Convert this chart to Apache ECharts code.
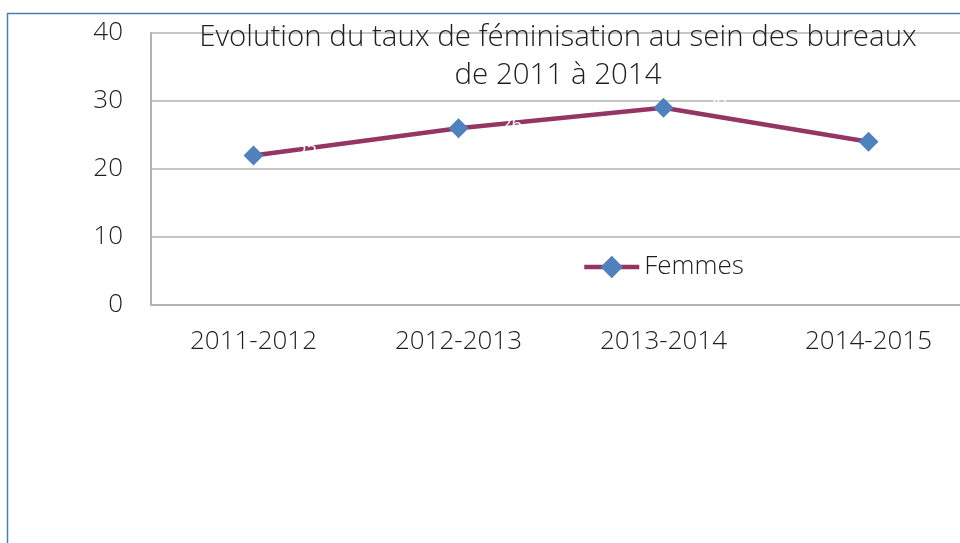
<!DOCTYPE html>
<html>
<head>
<meta charset="utf-8">
<script src="https://cdn.jsdelivr.net/npm/echarts@6/dist/echarts.min.js"></script>
<style>
  html, body { margin: 0; padding: 0; background: #ffffff; }
  #chart { width: 960px; height: 543px; }
</style>
</head>
<body>
<div id="chart"></div>
<script>
// School years on the horizontal axis
const categories = ['2011-2012', '2012-2013', '2013-2014', '2014-2015'];
// Share of women in the bureaux (%)
const femmes = [22, 26, 29, 24];
// Vertical axis range
const yMin = 0;
const yMax = 40;
const yStep = 10;

const FONT = "'Open Sans', 'Lato', sans-serif";

const chart = echarts.init(document.getElementById('chart'));
chart.setOption({
  animation: false,
  backgroundColor: '#ffffff',
  title: {
    text: 'Evolution du taux de féminisation au sein des bureaux\nde 2011 à 2014',
    left: 558,
    top: 19,
    padding: 0,
    textAlign: 'center',
    textStyle: {
      fontFamily: FONT,
      fontWeight: 300,
      fontSize: 29.5,
      lineHeight: 38,
      color: '#1f1f1f'
    }
  },
  legend: {
    left: 582,
    top: 254,
    padding: 0,
    itemWidth: 55,
    itemHeight: 28,
    data: ['Femmes'],
    lineStyle: { width: 4.5 },
    textStyle: {
      fontFamily: FONT,
      fontWeight: 300,
      fontSize: 26,
      color: '#1f1f1f'
    }
  },
  grid: {
    left: 151,
    top: 33,
    width: 820,
    bottom: 238,
    outerBoundsMode: 'none',
    containLabel: false
  },
  xAxis: {
    type: 'category',
    data: categories,
    boundaryGap: true,
    axisTick: { show: false },
    axisLine: { lineStyle: { color: '#b3b3b3', width: 2 } },
    axisLabel: {
      margin: 24,
      fontFamily: FONT,
      fontWeight: 300,
      fontSize: 26,
      color: '#1f1f1f'
    }
  },
  yAxis: {
    type: 'value',
    min: yMin,
    max: yMax,
    interval: yStep,
    axisTick: { show: false },
    axisLine: { show: true, lineStyle: { color: '#b3b3b3', width: 2 } },
    splitLine: { lineStyle: { color: '#b3b3b3', width: 1.5 } },
    axisLabel: {
      margin: 28,
      fontFamily: FONT,
      fontWeight: 300,
      fontSize: 26,
      color: '#1f1f1f'
    }
  },
  series: [{
    name: 'Femmes',
    type: 'line',
    data: femmes,
    symbol: 'diamond',
    symbolSize: 20,
    itemStyle: { color: '#4f81bd' },
    lineStyle: { color: '#953563', width: 4.5 },
    label: {
      show: true,
      position: 'right',
      offset: [28, -3],
      color: '#ffffff',
      fontFamily: FONT,
      fontSize: 18
    },
    z: 3
  }],
  graphic: [{
    type: 'rect',
    shape: { x: 7.5, y: 13.5, width: 1000, height: 600 },
    style: { fill: 'none', stroke: '#4a7ebb', lineWidth: 1.5 },
    silent: true,
    z: 100
  }]
});
</script>
</body>
</html>
